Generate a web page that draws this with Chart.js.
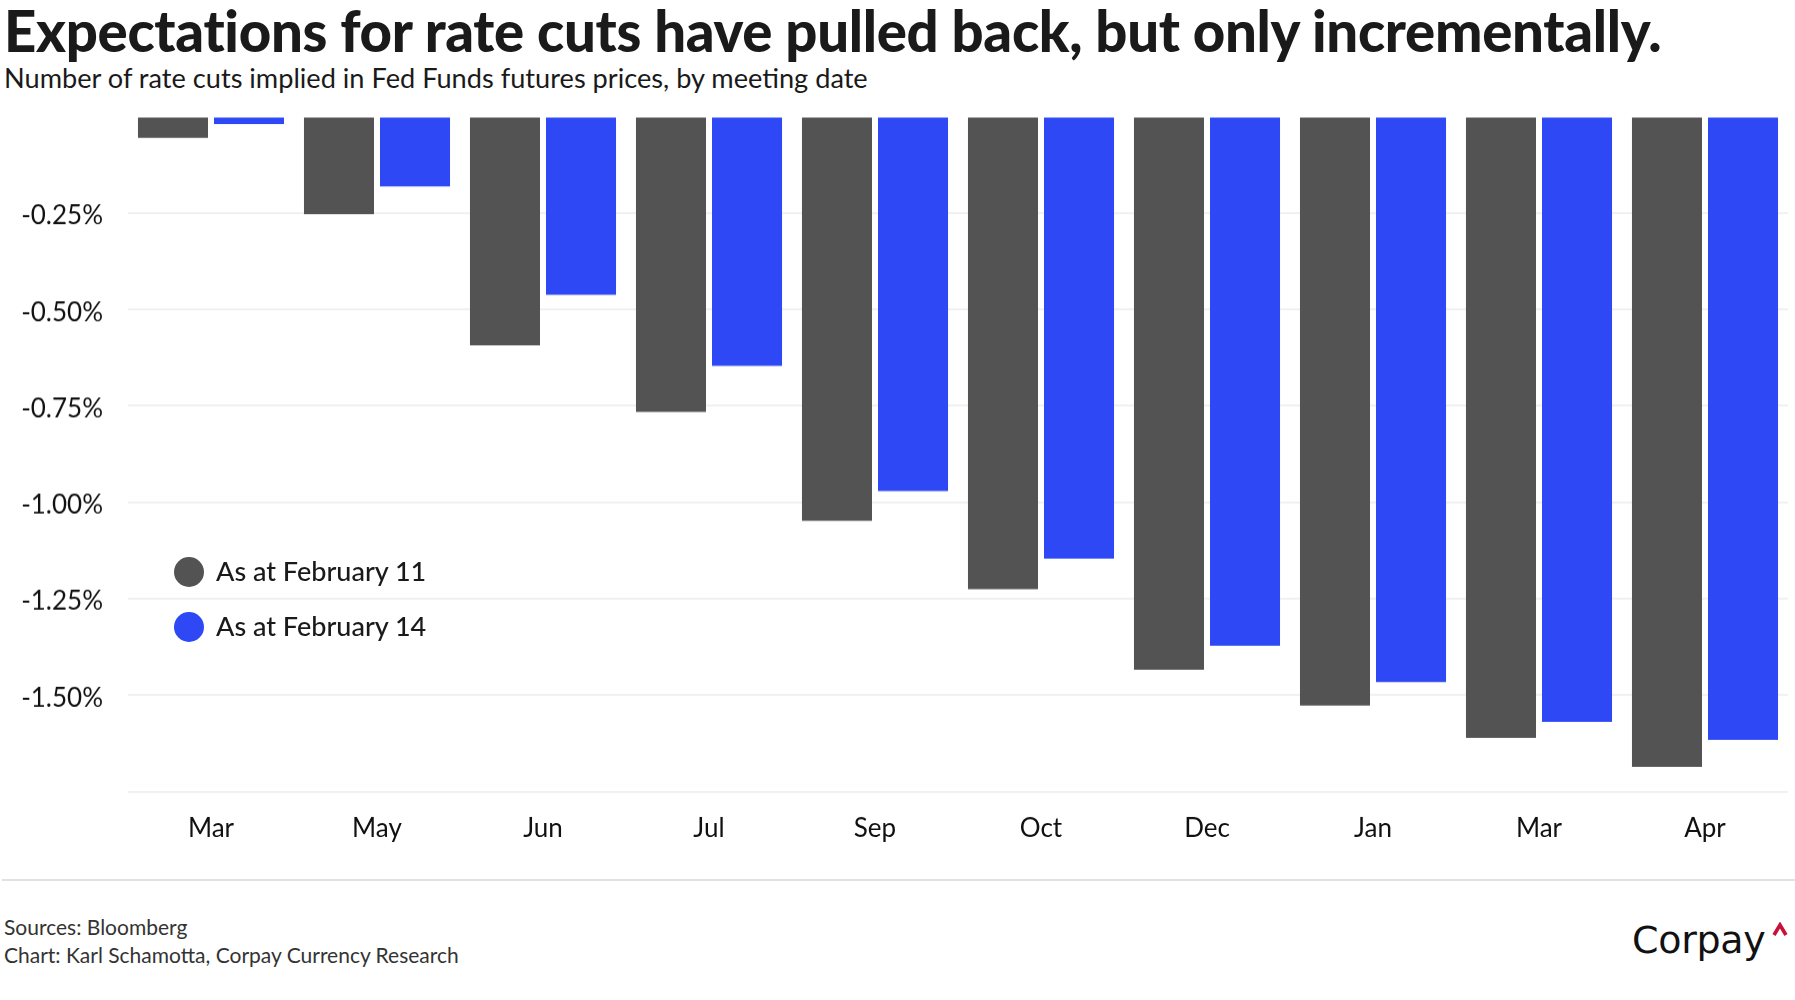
<!DOCTYPE html>
<html>
<head>
<meta charset="utf-8">
<script src="https://cdn.jsdelivr.net/npm/chart.js@4"></script>
<style>
  html, body { margin:0; padding:0; background:#ffffff; }
  body { width:1795px; height:1000px; position:relative; overflow:hidden; font-family: Lato, "Noto Sans", sans-serif; color:#1a1a1a; }
  .abs { position:absolute; white-space:nowrap; }
  #title { left:4px; top:2px; font-weight:900; font-size:44px; line-height:1; letter-spacing:-0.3px; color:#1a1a1a; }
  #subtitle { left:4px; top:64px; font-weight:400; font-size:25px; line-height:1; color:#1a1a1a; }
  #wrap { position:absolute; left:0; top:100px; width:1795px; height:770px; }
  #sep { position:absolute; left:2px; top:879px; width:1793px; height:2px; background:#e1e1e1; }
  .foot { left:4px; font-size:21px; line-height:1; color:#333333; }
  #legend { position:absolute; left:0; top:0; }
  .li { position:absolute; white-space:nowrap; font-size:27px; font-weight:500; line-height:1; color:#1a1a1a; }
  .dot { position:absolute; width:30px; height:30px; border-radius:50%; }
  #logo { left:1632px; top:921px; font-family:"DejaVu Sans", sans-serif; font-size:38px; line-height:1; color:#111; letter-spacing:-0.3px; }
  #caret { position:absolute; left:1772px; top:922px; }
</style>
</head>
<body>
<div id="title" class="abs">Expectations for rate cuts have pulled back, but only incrementally.</div>
<div id="subtitle" class="abs">Number of rate cuts implied in Fed Funds futures prices, by meeting date</div>
<div id="wrap"><canvas id="c"></canvas></div>
<div id="legend"></div>
<div id="sep"></div>
<div class="abs foot" id="f1" style="top:916px;">Sources: Bloomberg</div>
<div class="abs foot" id="f2" style="top:944px;">Chart: Karl Schamotta, Corpay Currency Research</div>
<div id="logo" class="abs">Corpay</div>
<svg id="caret" width="16" height="16" viewBox="0 0 16 16"><polyline points="2,13 8,3 14,13" fill="none" stroke="#c8103a" stroke-width="3.6" stroke-linejoin="miter"/></svg>
<script>
// ---- data ----
const categories = ['Mar', 'May', 'Jun', 'Jul', 'Sep', 'Oct', 'Dec', 'Jan', 'Mar', 'Apr'];
const seriesNames = ['As at February 11', 'As at February 14'];
const feb11 = [-0.055, -0.253, -0.593, -0.766, -1.048, -1.225, -1.434, -1.527, -1.611, -1.686];
const feb14 = [-0.019, -0.181, -0.462, -0.646, -0.971, -1.146, -1.372, -1.466, -1.569, -1.616];
const yTicks = [-0.25, -0.50, -0.75, -1.00, -1.25, -1.50];

const colors = ['#535353', '#2E48F5'];

function fitWidth(id, target) {
  const el = document.getElementById(id);
  const fs = parseFloat(getComputedStyle(el).fontSize);
  const w = el.getBoundingClientRect().width;
  if (w > 0) el.style.fontSize = (fs * target / w).toFixed(2) + 'px';
}

const chart = new Chart(document.getElementById('c'), {
  type: 'bar',
  data: {
    labels: categories,
    datasets: [
      { label: seriesNames[0], data: feb11, backgroundColor: colors[0], borderWidth: 0 },
      { label: seriesNames[1], data: feb14, backgroundColor: colors[1], borderWidth: 0 }
    ]
  },
  options: {
    responsive: true,
    maintainAspectRatio: false,
    animation: false,
    events: [],
    categoryPercentage: 0.916,
    barPercentage: 0.921,
    layout: { padding: { top: 17, right: 7, left: 0, bottom: 0 } },
    plugins: { legend: { display: false }, tooltip: { enabled: false }, title: { display: false } },
    scales: {
      x: {
        grid: { display: false, drawTicks: false },
        border: { display: false },
        ticks: { color: '#111111', font: { family: 'Lato', size: 26 }, padding: 21, maxRotation: 0, autoSkip: false },
        afterFit: (s) => { s.height = 79; }
      },
      y: {
        min: -1.75, max: 0,
        afterBuildTicks: (s) => {
          const arr = [0].concat(yTicks).concat([-1.75]);
          s.ticks = arr.map(v => ({ value: v }));
        },
        grid: {
          drawTicks: false,
          lineWidth: 2,
          color: (ctx) => (ctx.tick && ctx.tick.value === 0) ? 'rgba(0,0,0,0)' : '#f0f0f0'
        },
        border: { display: false },
        ticks: {
          color: '#111111', font: { family: 'Lato', size: 26 }, padding: 25, labelOffset: 3,
          callback: (v) => yTicks.includes(v) ? v.toFixed(2) + '%' : ''
        },
        afterFit: (s) => { s.width = 128; }
      }
    }
  }
});

// align plot top with the reference (chart area top at y=117)
(function () {
  const wrap = document.getElementById('wrap');
  const dt = chart.chartArea.top - 17;
  if (Math.abs(dt) > 0.5) {
    wrap.style.top = (100 - dt) + 'px';
    wrap.style.height = (770 + dt) + 'px';
    chart.resize();
  }
})();

// legend built from datasets
const lg = document.getElementById('legend');
chart.data.datasets.forEach((ds, i) => {
  const cy = 572 + i * 55;
  const d = document.createElement('div');
  d.className = 'dot';
  d.style.left = (189 - 15) + 'px';
  d.style.top = (cy - 15) + 'px';
  d.style.background = ds.backgroundColor;
  lg.appendChild(d);
  const t = document.createElement('div');
  t.className = 'li';
  t.textContent = ds.label;
  t.style.left = '216px';
  t.style.top = (cy - 15) + 'px';
  lg.appendChild(t);
});

fitWidth('title', 1652);
fitWidth('subtitle', 864);
fitWidth('f2', 455);
document.getElementById('f1').style.fontSize = document.getElementById('f2').style.fontSize;
</script>
</body>
</html>
